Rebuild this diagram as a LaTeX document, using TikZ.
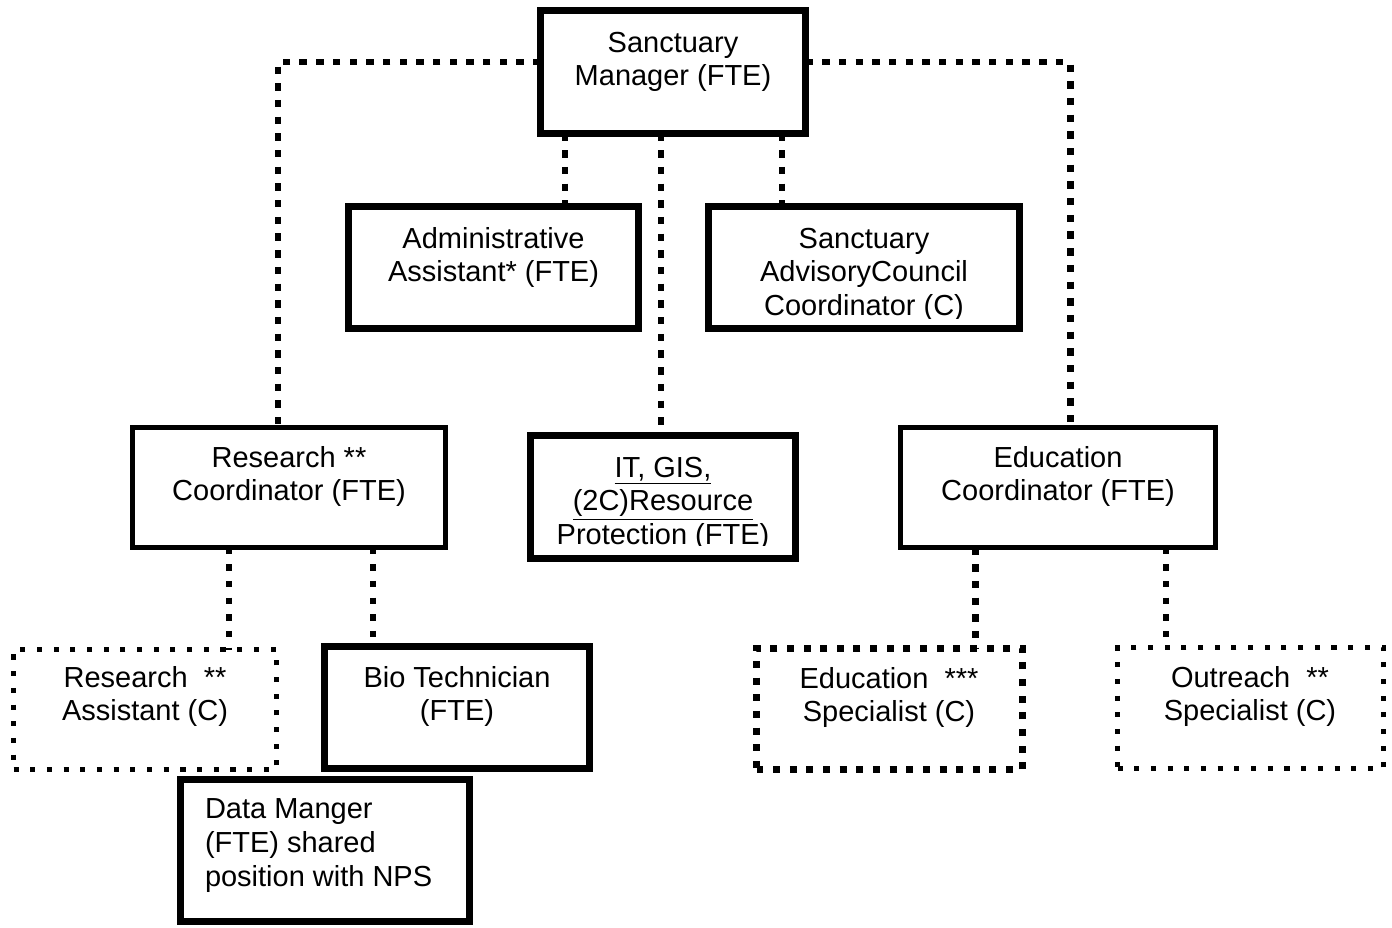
\documentclass[tikz,border=0pt]{standalone}
\usepackage{fontspec}
\setmainfont{Liberation Sans}
\usetikzlibrary{fit}
\begin{document}
\begin{tikzpicture}[x=0.02cm,y=-0.02cm,
  box/.style={draw, fill=white, inner sep=0pt, outer sep=0pt, line width=3.97pt},
  thinbox/.style={box, line width=2.84pt},
  dotbox/.style={box, line width=3.97pt, dash pattern=on 3.97pt off 5.5pt},
  thindotbox/.style={box, line width=2.84pt, dash pattern=on 2.9pt off 6.6pt},
  conn/.style={line width=3.97pt, dash pattern=on 4.2pt off 5.3pt},
  thinconn/.style={line width=3.2pt, dash pattern=on 3.6pt off 5.9pt},
  lbl/.style={inner sep=0pt, outer sep=0pt, align=center, anchor=north,
    font=\fontsize{16.5pt}{19.2pt}\selectfont},
  lbll/.style={lbl, align=left, anchor=north west}]
\useasboundingbox (0,0) rectangle (1392,927);

% named points for connector bends
\coordinate (cl) at (278,62);
\coordinate (cr) at (1070,62);
\coordinate (d1) at (565,0);
\coordinate (d2) at (661,0);
\coordinate (d3) at (782,0);
\coordinate (d4) at (229,0);
\coordinate (d5) at (373,0);
\coordinate (d6) at (975,0);
\coordinate (d7) at (1166,0);

% boxes (borders only, fitted)
\node[box, fit={(540.5,10.5) (805.5,133.5)}] (mgr) {};
\node[box, fit={(348.5,206.5) (638.5,328.5)}] (adm) {};
\node[box, fit={(708.5,206.5) (1019.5,328.5)}] (adv) {};
\node[thinbox, fit={(132.5,427.5) (445.5,547.5)}] (rc) {};
\node[box, fit={(530.5,435.5) (795.5,558.5)}] (it) {};
\node[thinbox, fit={(900.5,427.5) (1215.5,547.5)}] (ec) {};
\node[thindotbox, fit={(13.5,649.5) (276.5,769.5)}] (ra) {};
\node[box, fit={(324.5,646.5) (589.5,768.5)}] (bt) {};
\node[box, fit={(180.5,779.5) (469.5,921.5)}] (dm) {};
\node[dotbox, fit={(756.5,648.5) (1022.5,769.5)}] (es) {};
\node[thindotbox, fit={(1117.5,647.5) (1383.5,768.5)}] (os) {};

% connectors
\draw[conn] (cl -| mgr.west) -- (cl) -- (cl |- rc.north);
\draw[conn] (cr -| mgr.east) -- (cr) -- (cr |- ec.north);
\draw[conn] (d1 |- mgr.south) -- (d1 |- adm.north);
\draw[conn] (d2 |- mgr.south) -- (d2 |- it.north);
\draw[conn] (d3 |- mgr.south) -- (d3 |- adv.north);
\draw[thinconn] (d4 |- rc.south) -- (d4 |- ra.north);
\draw[thinconn] (d5 |- rc.south) -- (d5 |- bt.north);
\draw[conn] (d6 |- ec.south) -- (d6 |- es.north);
\draw[thinconn] (d7 |- ec.south) -- (d7 |- os.north);

% labels
\node[lbl] (mgrT) at (673,32) {Sanctuary\\Manager (FTE)};
\node[lbl] (admT) at (493.5,227) {Administrative\\Assistant* (FTE)};
\begin{scope}
\clip (708.5,206.5) rectangle (1019.5,318);
\node[lbl] (advT) at (864,228) {Sanctuary\\AdvisoryCouncil\\Coordinator (C)};
\end{scope}
\node[lbl] (rcT) at (289,446) {Research **\\Coordinator (FTE)};
\begin{scope}
\clip (530.5,435.5) rectangle (795.5,545);
\node[lbl] (itT) at (663,457) {\underline{IT, GIS,}\\\underline{(2C)Resource}\\Protection (FTE)};
\end{scope}
\node[lbl] (ecT) at (1058,446) {Education\\Coordinator (FTE)};
\node[lbl] (raT) at (145,666) {Research\ \ **\\Assistant (C)};
\node[lbl] (btT) at (457,666) {Bio Technician\\(FTE)};
\node[lbll] (dmT) at (205,799) {Data Manger\\(FTE) shared\\position with NPS};
\node[lbl] (esT) at (889,667) {Education\ \ ***\\Specialist (C)};
\node[lbl] (osT) at (1250,666) {Outreach\ \ **\\Specialist (C)};
\end{tikzpicture}
\end{document}
